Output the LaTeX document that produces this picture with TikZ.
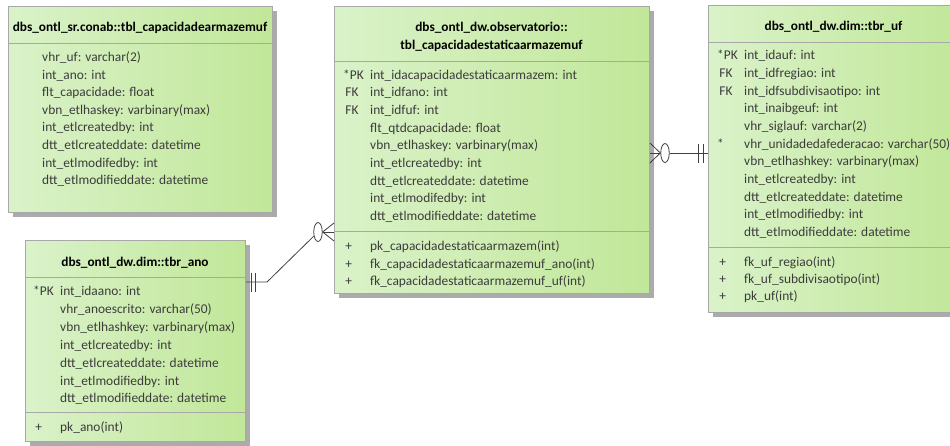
\documentclass[tikz,border=0pt]{standalone}
\usepackage{fontspec}
\setmainfont{Carlito}
\usetikzlibrary{shapes.geometric, shadows, calc}

\definecolor{tblleft}{HTML}{DAF2C9}
\definecolor{tblright}{HTML}{C1E799}
\definecolor{tblframe}{HTML}{A8A8A8}
\definecolor{tblshadow}{HTML}{ABABAB}
\definecolor{rowtext}{HTML}{3C3C3C}
\definecolor{reltext}{HTML}{404040}

\tikzset{
  tbl/.style={draw=tblframe, line width=0.9pt, left color=tblleft, right color=tblright, anchor=north west, inner sep=0pt,
    general shadow={fill=tblshadow, shadow xshift=5pt, shadow yshift=-5pt}},
  ttl/.style={font=\fontsize{13.3}{18}\selectfont\bfseries, text=black, align=center, inner sep=0pt},
  row/.style={font=\fontsize{13.4}{15}\selectfont, text=rowtext, anchor=west, inner sep=0pt, text height=9.5pt, text depth=3pt},
  sep/.style={draw=tblframe, line width=0.9pt},
  rel/.style={draw=reltext, line width=0.8pt},
  ring/.style={rel, ellipse, minimum width=8.5pt, minimum height=19pt, inner sep=0pt}
}

\begin{document}
\begin{tikzpicture}[x=1pt, y=-1pt]
\useasboundingbox (0,0) rectangle (950,445);
\clip (0,0) rectangle (950,445);

% dbs_ontl_sr.conab
\node[tbl, minimum width=264pt, minimum height=206pt] (conab) at (8,6) {};
\node[ttl] (conab-t) at (140,28) {dbs\_ontl\_sr.conab::tbl\_capacidadearmazemuf};
\draw[sep] (conab.west |- 0,43) -- (conab.east |- 0,43);
\foreach \t [count=\i] in {vhr\_uf: varchar(2), int\_ano: int, flt\_capacidade: float, vbn\_etlhaskey: varbinary(max), int\_etlcreatedby: int, dtt\_etlcreateddate: datetime, int\_etlmodifedby: int, dtt\_etlmodifieddate: datetime}
  \node[row] (conab-\i) at (42, {58.3+17.6*(\i-1)}) {\t};

% dbs_ontl_dw.dim::tbr_ano
\node[tbl, minimum width=220pt, minimum height=201pt] (ano) at (25,240) {};
\node[ttl] (ano-t) at (135,263) {dbs\_ontl\_dw.dim::tbr\_ano};
\draw[sep] (ano.west |- 0,277) -- (ano.east |- 0,277);
\draw[sep] (ano.west |- 0,412) -- (ano.east |- 0,412);
\foreach \k/\t [count=\i] in {{*PK}/{int\_idaano: int}, {}/{vhr\_anoescrito: varchar(50)}, {}/{vbn\_etlhashkey: varbinary(max)}, {}/{int\_etlcreatedby: int}, {}/{dtt\_etlcreateddate: datetime}, {}/{int\_etlmodifiedby: int}, {}/{dtt\_etlmodifieddate: datetime}}
  \node[row] (ano-\i) at (33, {292.3+17.9*(\i-1)}) {\makebox[27pt][l]{\k}\t};
\node[row] (ano-m1) at (33,428.3) {\makebox[27pt][l]{\,+}pk\_ano(int)};

% dbs_ontl_dw.observatorio
\node[tbl, minimum width=315pt, minimum height=287pt] (obs) at (334,6) {};
\node[ttl] (obs-t) at (491.5,37) {dbs\_ontl\_dw.observatorio::\\tbl\_capacidadestaticaarmazemuf};
\draw[sep] (obs.west |- 0,61) -- (obs.east |- 0,61);
\draw[sep] (obs.west |- 0,231) -- (obs.east |- 0,231);
\foreach \k/\t [count=\i] in {{*PK}/{int\_idacapacidadestaticaarmazem: int}, {\,FK}/{int\_idfano: int}, {\,FK}/{int\_idfuf: int}, {}/{flt\_qtdcapacidade: float}, {}/{vbn\_etlhaskey: varbinary(max)}, {}/{int\_etlcreatedby: int}, {}/{dtt\_etlcreateddate: datetime}, {}/{int\_etlmodifedby: int}, {}/{dtt\_etlmodifieddate: datetime}}
  \node[row] (obs-\i) at (343, {76+17.67*(\i-1)}) {\makebox[27pt][l]{\k}\t};
\foreach \t [count=\i] in {pk\_capacidadestaticaarmazem(int), fk\_capacidadestaticaarmazemuf\_ano(int), fk\_capacidadestaticaarmazemuf\_uf(int)}
  \node[row] (obs-m\i) at (343, {247.7+17.5*(\i-1)}) {\makebox[27pt][l]{\,+}\t};

% dbs_ontl_dw.dim::tbr_uf
\node[tbl, minimum width=251pt, minimum height=307pt] (uf) at (708,5) {};
\node[ttl] (uf-t) at (833.5,27) {dbs\_ontl\_dw.dim::tbr\_uf};
\draw[sep] (uf.west |- 0,42) -- (uf.east |- 0,42);
\draw[sep] (uf.west |- 0,247) -- (uf.east |- 0,247);
\foreach \k/\t [count=\i] in {{*PK}/{int\_idauf: int}, {\,FK}/{int\_idfregiao: int}, {\,FK}/{int\_idfsubdivisaotipo: int}, {}/{int\_inaibgeuf: int}, {}/{vhr\_siglauf: varchar(2)}, {*}/{vhr\_unidadedafederacao: varchar(50)}, {}/{vbn\_etlhashkey: varbinary(max)}, {}/{int\_etlcreatedby: int}, {}/{dtt\_etlcreateddate: datetime}, {}/{int\_etlmodifiedby: int}, {}/{dtt\_etlmodifieddate: datetime}}
  \node[row] (uf-\i) at (717, {56.7+17.67*(\i-1)}) {\makebox[27pt][l]{\k}\t};
\foreach \t [count=\i] in {fk\_uf\_regiao(int), fk\_uf\_subdivisaotipo(int), pk\_uf(int)}
  \node[row] (uf-m\i) at (717, {263.3+17.2*(\i-1)}) {\makebox[27pt][l]{\,+}\t};

% relations
\coordinate (bend) at (267,282);
\node[ring] (o-ano) at (318,232) {};
\draw[rel] (ano.east |- bend) -- (bend) -- (o-ano);
\foreach \d in {5,9} \draw[rel] ($(ano.east |- bend)+(\d,-9.5)$) -- ++(0,19);
\foreach \d in {-9,0,9} \draw[rel] (o-ano.east) -- ($(obs.west |- o-ano)+(0,\d)$);

\node[ring] (o-uf) at (665,153) {};
\foreach \d in {-10,0,10} \draw[rel] (o-uf.west) -- ($(obs.east |- o-uf)+(0,\d)$);
\draw[rel] (o-uf.east) -- (uf.west |- o-uf);
\foreach \d in {-10,-5} \draw[rel] ($(uf.west |- o-uf)+(\d,-9.5)$) -- ++(0,19);
\end{tikzpicture}
\end{document}
